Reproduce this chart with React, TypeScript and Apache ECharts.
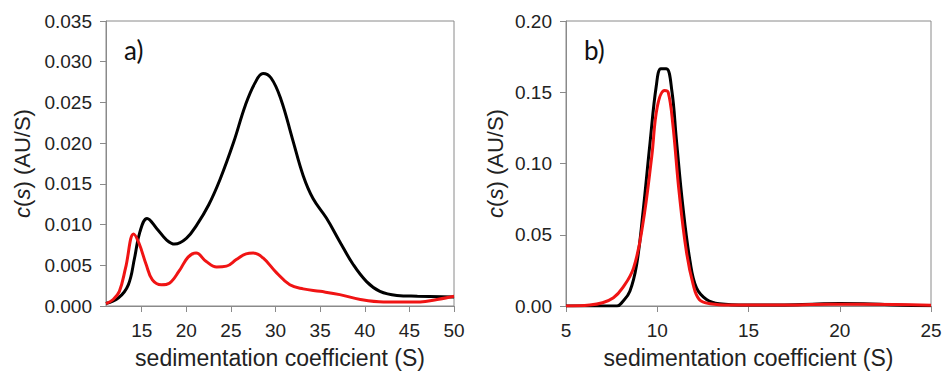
import React, { useEffect, useRef } from "react";
import * as echarts from "echarts";

// Panel a) black curve: [s, c(s)]
const aBlack: [number, number][] = [
  [11, 0.0003], [12.4, 0.001], [13.5, 0.0026], [14.2, 0.0059], [14.8, 0.0091],
  [15.6, 0.01076], [16.7, 0.0095], [17.8, 0.0081], [18.7, 0.0076], [20.0, 0.0083],
  [21.2, 0.01], [22.5, 0.0124], [23.8, 0.0156], [25.3, 0.0201], [26.6, 0.0246],
  [27.7, 0.0274], [28.6, 0.02855], [29.5, 0.028], [30.6, 0.0254], [31.9, 0.0205],
  [33.1, 0.016], [34.2, 0.0132], [35.7, 0.0108], [37.2, 0.0079], [38.7, 0.0051],
  [40.2, 0.003], [41.7, 0.0018], [43.6, 0.0013], [45.9, 0.0012], [50, 0.0011],
];
// Panel a) red curve
const aRed: [number, number][] = [
  [11, 0.0003], [11.8, 0.0008], [12.5, 0.0018], [13.2, 0.0047], [14.1, 0.00885],
  [14.7, 0.0077], [15.5, 0.0051], [16.2, 0.0032], [17.2, 0.0026], [18.1, 0.0028],
  [19.2, 0.0043], [20.2, 0.006], [21.1, 0.0065], [22.2, 0.0055], [23.4, 0.0048],
  [24.5, 0.0049], [25.6, 0.0057], [26.7, 0.0064], [27.5, 0.0065], [28.6, 0.0059],
  [30.1, 0.0041], [31.6, 0.0026], [33.1, 0.0021], [35.0, 0.0018], [37.2, 0.0014],
  [39.5, 0.0008], [42.1, 0.0005], [43.9, 0.0005], [46.2, 0.0005], [48.1, 0.0008],
  [50, 0.0012],
];
// Panel b) black curve
const bBlack: [number, number][] = [
  [5, 0], [7.8, 0], [8.1, 0.003], [8.5, 0.0104], [8.87, 0.029], [9.2, 0.0635],
  [9.6, 0.114], [9.95, 0.1547], [10.2, 0.1665], [10.5, 0.1665], [10.8, 0.151],
  [11.05, 0.1166], [11.4, 0.0704], [11.8, 0.0312], [12.15, 0.0127], [12.7, 0.0046],
  [13.4, 0.0016], [14.9, 0.0007], [16.7, 0.0007], [18.5, 0.0012], [20.0, 0.0018],
  [21.3, 0.0016], [23.1, 0.0007], [25, 0.0002],
];
// Panel b) red curve
const bRed: [number, number][] = [
  [5, 0], [6.3, 0.0007], [7.0, 0.0023], [7.6, 0.0058], [8.1, 0.0127], [8.7, 0.0266],
  [9.2, 0.0566], [9.7, 0.105], [10.0, 0.1397], [10.4, 0.1513], [10.6, 0.15],
  [10.85, 0.128], [11.2, 0.0797], [11.6, 0.038], [11.97, 0.015], [12.3, 0.0046],
  [12.9, 0.0016], [14.0, 0.0007], [16.7, 0.0007], [19.4, 0.0012], [21.3, 0.0012],
  [25, 0.0005],
];

const aXTicks = [15, 20, 25, 30, 35, 40, 45, 50];
const panelLabels = ["a)", "b)"];
const xTitle = "sedimentation coefficient (S)";
const yTitle = "{i|c}({i|s}) (AU/S)";

export default function App() {
  const ref = useRef<HTMLDivElement>(null);
  useEffect(() => {
    document.body.style.margin = "0";
    if (!ref.current) return;
    const chart = echarts.init(ref.current, null, { renderer: "svg" });
    const font = "Liberation Sans";
    const axisLineStyle = { color: "#8a8a8a", width: 1 };
    const labelStyle = { color: "#222", fontSize: 19, fontFamily: font };
    const nameStyle = {
      color: "#222",
      fontSize: 22,
      fontFamily: font,
      rich: { i: { fontStyle: "italic", fontSize: 22, fontFamily: font, color: "#222" } },
    };
    const baseX = (gi: number) => ({
      type: "value",
      gridIndex: gi,
      name: xTitle,
      nameLocation: "middle",
      nameGap: 40,
      nameTextStyle: { color: "#222", fontSize: 23, fontFamily: font },
      axisLine: { show: true, lineStyle: axisLineStyle },
      axisTick: { show: true, inside: false, length: 6, lineStyle: axisLineStyle },
      axisLabel: { ...labelStyle, margin: 15 },
      splitLine: { show: false },
    });
    const baseY = (gi: number) => ({
      type: "value",
      gridIndex: gi,
      name: yTitle,
      nameLocation: "middle",
      nameTextStyle: nameStyle,
      axisLine: { show: true, lineStyle: axisLineStyle },
      axisTick: { show: true, inside: false, length: 6, lineStyle: axisLineStyle },
      axisLabel: { ...labelStyle, margin: 14 },
      splitLine: { show: false },
    });
    const lineSeries = (data: [number, number][], color: string, gi: number) => ({
      type: "line",
      xAxisIndex: gi,
      yAxisIndex: gi,
      data,
      smooth: 0.4,
      showSymbol: false,
      symbol: "none",
      lineStyle: { color, width: 3 },
      silent: true,
    });
    chart.setOption({
      animation: false,
      backgroundColor: "#fff",
      grid: [
        { left: 106, top: 21, width: 348, height: 287, show: true, borderColor: "#8a8a8a", borderWidth: 1, containLabel: false },
        { left: 566, top: 21, width: 365, height: 287, show: true, borderColor: "#8a8a8a", borderWidth: 1, containLabel: false },
      ],
      xAxis: [
        {
          ...baseX(0),
          min: 11,
          max: 50,
          axisTick: { show: true, inside: false, length: 6, lineStyle: axisLineStyle, customValues: aXTicks },
          axisLabel: { ...labelStyle, margin: 15, customValues: aXTicks },
        },
        { ...baseX(1), min: 5, max: 25, interval: 5 },
      ],
      yAxis: [
        {
          ...baseY(0),
          min: 0,
          max: 0.035,
          interval: 0.005,
          nameGap: 73,
          axisLabel: { ...labelStyle, margin: 14, formatter: (v: number) => v.toFixed(3) },
        },
        {
          ...baseY(1),
          min: 0,
          max: 0.2,
          interval: 0.05,
          nameGap: 60,
          axisLabel: { ...labelStyle, margin: 14, formatter: (v: number) => v.toFixed(2) },
        },
      ],
      graphic: [
        { type: "text", left: 124, top: 37, style: { text: panelLabels[0], fontSize: 26, fontFamily: "Lato", fill: "#111" } },
        { type: "text", left: 584, top: 37, style: { text: panelLabels[1], fontSize: 26, fontFamily: "Lato", fill: "#111" } },
      ],
      series: [
        lineSeries(aBlack, "#000000", 0),
        lineSeries(aRed, "#f01414", 0),
        lineSeries(bBlack, "#000000", 1),
        lineSeries(bRed, "#f01414", 1),
      ],
    });
    return () => chart.dispose();
  }, []);
  return <div ref={ref} style={{ width: 945, height: 374 }} />;
}
